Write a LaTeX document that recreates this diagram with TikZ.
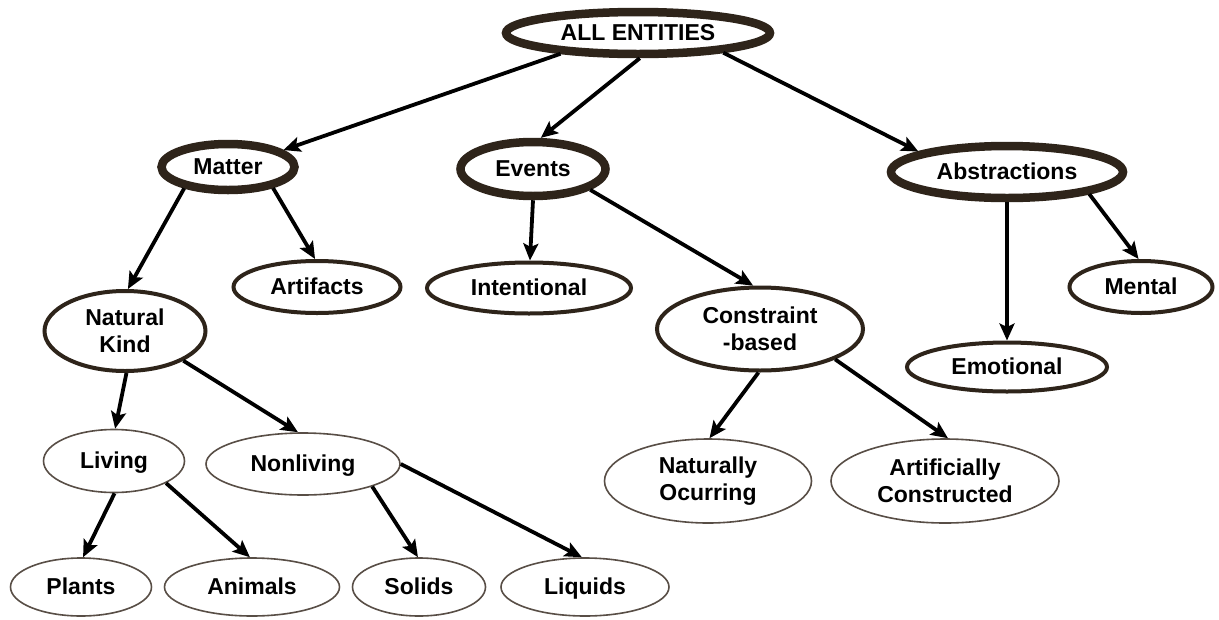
\documentclass[tikz,border=0pt]{standalone}
\usepackage{fontspec}
\setmainfont{Liberation Sans}
\usetikzlibrary{shapes.geometric,arrows.meta}
\definecolor{rim}{RGB}{46,36,26}
\definecolor{leafrim}{RGB}{88,78,70}
\begin{document}
\begin{tikzpicture}[x=1pt,y=-1pt,
  base/.style={ellipse, inner sep=0pt, align=center, fill=white,
    font=\fontsize{23}{27}\selectfont\bfseries},
  oneline/.style={text height=16.5pt, text depth=1pt},
  toplevel/.style={base, draw=rim, line width=8.5pt, outer sep=4.25pt},
  midlevel/.style={base, draw=rim, line width=4pt, outer sep=2pt},
  leaflevel/.style={base, draw=leafrim, line width=1.6pt, outer sep=0.8pt},
  arrowlink/.style={line width=3.8pt, -{Stealth[length=17pt,width=15pt,inset=3.5pt]}}
]
\useasboundingbox (0,0) rectangle (1219,619);
\fill[white] (0,0) rectangle (1219,619);

% top of the hierarchy
\node[toplevel, oneline, minimum width=264pt, minimum height=42pt] (all) at (638,33) {ALL ENTITIES};

% first level
\node[toplevel, oneline, minimum width=133pt, minimum height=46pt] (matter) at (228,167) {Matter};
\node[toplevel, oneline, minimum width=145pt, minimum height=54pt] (events) at (533,169) {Events};
\node[toplevel, oneline, minimum width=232pt, minimum height=52pt] (abstr) at (1007,172) {Abstractions};

% second level
\node[midlevel, oneline, minimum width=167pt, minimum height=52pt] (artifacts) at (317,287) {Artifacts};
\node[midlevel, oneline, minimum width=204pt, minimum height=51pt] (intent) at (529,288) {Intentional};
\node[midlevel, oneline, minimum width=143pt, minimum height=52pt] (mental) at (1141,287) {Mental};
\node[midlevel, minimum width=161pt, minimum height=80pt] (natkind) at (125,331) {Natural\\Kind};
\node[midlevel, minimum width=206pt, minimum height=83pt] (constr) at (760,329) {Constraint\\-based};
\node[midlevel, oneline, minimum width=200pt, minimum height=49pt] (emot) at (1007,367) {Emotional};

% third level
\node[leaflevel, oneline, minimum width=141pt, minimum height=63pt] (living) at (114,461) {Living};
\node[leaflevel, oneline, minimum width=194pt, minimum height=62pt] (nonliving) at (303,464) {Nonliving};
\node[leaflevel, minimum width=207pt, minimum height=84pt] (natocc) at (708,481) {Naturally\\Ocurring};
\node[leaflevel, minimum width=228pt, minimum height=84pt] (artcon) at (945,481) {Artificially\\Constructed};

% bottom row
\node[leaflevel, oneline, minimum width=141pt, minimum height=58pt] (plants) at (81,587) {Plants};
\node[leaflevel, oneline, minimum width=175pt, minimum height=58pt] (animals) at (252,587) {Animals};
\node[leaflevel, oneline, minimum width=133pt, minimum height=58pt] (solids) at (419,587) {Solids};
\node[leaflevel, oneline, minimum width=168pt, minimum height=58pt] (liquids) at (585,587) {Liquids};

% connectors
\draw[arrowlink] (all.-165) -- (matter.17);
\draw[arrowlink] (all.-86) -- (events.76);
\draw[arrowlink] (all.-13) -- (abstr.167);
\draw[arrowlink] (matter.-154) -- (natkind.86);
\draw[arrowlink] (matter.-25) -- (artifacts.94);
\draw[arrowlink] (events.-90) -- (intent.88);
\draw[arrowlink] (events.-20) -- (constr.99);
\draw[arrowlink] (abstr.-90) -- (emot.90);
\draw[arrowlink] (abstr.-15) -- (mental.95);
\draw[arrowlink] (natkind.-88) -- (living.88);
\draw[arrowlink] (natkind.-27) -- (nonliving.99);
\draw[arrowlink] (living.-89) -- (plants.86);
\draw[arrowlink] (living.-23) -- (animals.94);
\draw[arrowlink] (nonliving.-18) -- (solids.92);
\draw[arrowlink] (nonliving.0) -- (liquids.96);
\draw[arrowlink] (constr.-92) -- (natocc.88);
\draw[arrowlink] (constr.-22) -- (artcon.86);
\end{tikzpicture}
\end{document}
